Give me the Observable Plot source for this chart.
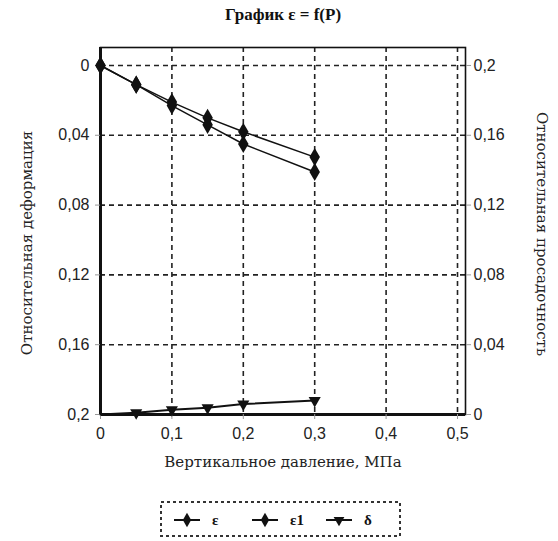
<!DOCTYPE html>
<html>
<head>
<meta charset="utf-8">
<script src="https://cdn.jsdelivr.net/npm/d3@7"></script>
<script src="https://cdn.jsdelivr.net/npm/@observablehq/plot@0.6"></script>
<style>
  html, body { margin: 0; padding: 0; background: #fff; }
  #wrap { position: relative; width: 558px; height: 541px; overflow: hidden; }
  #title { position: absolute; left: 0; top: 5px; width: 566px; text-align: center;
           font-family: "Liberation Serif", serif; font-size: 17px; font-weight: bold; color: #111; }
  #chart { position: absolute; left: 0; top: 0; }
  #legend { position: absolute; left: 160px; top: 499px; }
</style>
</head>
<body>
<div id="wrap">
  <div id="chart"></div>
  <div id="title">График ε = f(P)</div>
  <div id="legend"></div>
</div>
<script>
// Вертикальное давление, МПа
const pressure = [0, 0.05, 0.1, 0.15, 0.2, 0.3];
// Относительная деформация (левая ось)
const strainE = [0, 0.011, 0.021, 0.030, 0.038, 0.0525];
const strainE1 = [0, 0.011, 0.023, 0.034, 0.045, 0.061];
// Относительная просадочность (правая ось)
const sagging = [0, 0.001, 0.0027, 0.0038, 0.006, 0.008];

const xTicks = [0, 0.1, 0.2, 0.3, 0.4, 0.5];
const leftTicks = [0, 0.04, 0.08, 0.12, 0.16, 0.2];
const rightTicks = [0, 0.04, 0.08, 0.12, 0.16, 0.2];

const seriesNames = ["ε", "ε1", "δ"];

const fmt = d => String(+d.toFixed(2)).replace(".", ",");

const rowsE = pressure.map((p, i) => ({p, v: strainE[i]}));
const rowsE1 = pressure.map((p, i) => ({p, v: strainE1[i]}));
// the right axis runs upward from the bottom of the left (reversed) axis
const rowsS = pressure.map((p, i) => ({p, v: 0.2 - sagging[i]}));

const titleFont = {fontFamily: "DejaVu Serif, serif", fontSize: 15, fill: "#222", textAnchor: "middle"};

const W = 558, H = 490;
const chart = Plot.plot({
  width: W,
  height: H,
  marginLeft: 100,
  marginRight: 93,
  marginTop: 47,
  marginBottom: 76,
  style: {fontFamily: "Liberation Sans, Arial, sans-serif", fontSize: "15px", color: "#222", background: "transparent"},
  x: {domain: [0, 0.5112], ticks: xTicks},
  y: {domain: [0.2, -0.0103]},
  marks: [
    // dashed grid
    Plot.ruleY(leftTicks.filter(d => d < 0.2), {stroke: "#222", strokeWidth: 1.6, strokeDasharray: "5,4"}),
    Plot.ruleX(xTicks.filter(d => d > 0), {stroke: "#222", strokeWidth: 1.6, strokeDasharray: "5,4"}),
    // frame
    Plot.frame({stroke: "#111", strokeWidth: 1.6}),
    Plot.ruleX([0], {stroke: "#111", strokeWidth: 3}),
    Plot.ruleY([0.2], {stroke: "#111", strokeWidth: 3}),
    // axes
    Plot.axisX({ticks: xTicks, tickFormat: fmt, tickSize: 5, tickPadding: 8, stroke: "#999", fontSize: 16, label: null}),
    Plot.axisY({ticks: leftTicks, tickFormat: fmt, anchor: "left", tickSize: 5, tickPadding: 6, stroke: "#999", fontSize: 16, label: null}),
    Plot.axisY({ticks: rightTicks.map(d => 0.2 - d), tickFormat: d => fmt(0.2 - d), anchor: "right", tickSize: 5, tickPadding: 3, stroke: "#999", fontSize: 16, label: null}),
    // series
    Plot.line(rowsE, {x: "p", y: "v", stroke: "#111", strokeWidth: 1.5}),
    Plot.dot(rowsE, {x: "p", y: "v", symbol: "diamond", r: 5.5, fill: "#111"}),
    Plot.line(rowsE1, {x: "p", y: "v", stroke: "#111", strokeWidth: 1.5}),
    Plot.dot(rowsE1, {x: "p", y: "v", symbol: "diamond", r: 5.5, fill: "#111"}),
    Plot.line(rowsS, {x: "p", y: "v", stroke: "#111", strokeWidth: 2}),
    Plot.dot(rowsS.slice(1), {x: "p", y: "v", symbol: "triangle", rotate: 180, r: 4.5, fill: "#111"}),
    // axis titles
    Plot.text(["Вертикальное давление, МПа"], {...titleFont, frameAnchor: "bottom", dy: 52, letterSpacing: 0.6}),
    Plot.text(["Относительная деформация"], {...titleFont, frameAnchor: "left", dx: -73, dy: 12, rotate: -90, letterSpacing: 1.6}),
    Plot.text(["Относительная просадочность"], {...titleFont, frameAnchor: "right", dx: 76, dy: 3, rotate: 90, letterSpacing: 0.8})
  ]
});
document.getElementById("chart").appendChild(chart);

// legend in a dotted box
const lg = d3.select("#legend").append("svg").attr("width", 245).attr("height", 40);
lg.append("rect").attr("x", 1).attr("y", 3).attr("width", 239).attr("height", 34)
  .attr("fill", "none").attr("stroke", "#333").attr("stroke-width", 2).attr("stroke-dasharray", "3,3");
const symD = d3.symbol(d3.symbolDiamond, 60)();
const symT = d3.symbol(d3.symbolTriangle, 50)();
const items = [
  {x: 14, sym: symD, rot: 0},
  {x: 92, sym: symD, rot: 0},
  {x: 166, sym: symT, rot: 180}
];
items.forEach((it, i) => {
  const g = lg.append("g").attr("transform", `translate(${it.x},21)`);
  g.append("line").attr("x1", 0).attr("x2", 26).attr("stroke", "#111").attr("stroke-width", 2);
  g.append("path").attr("d", it.sym).attr("fill", "#111").attr("transform", `translate(13,0) rotate(${it.rot})`);
  g.append("text").attr("x", 38).attr("y", 5).text(seriesNames[i])
    .attr("font-family", "Liberation Serif, serif").attr("font-size", 15).attr("font-weight", "bold").attr("fill", "#111");
});
</script>
</body>
</html>
